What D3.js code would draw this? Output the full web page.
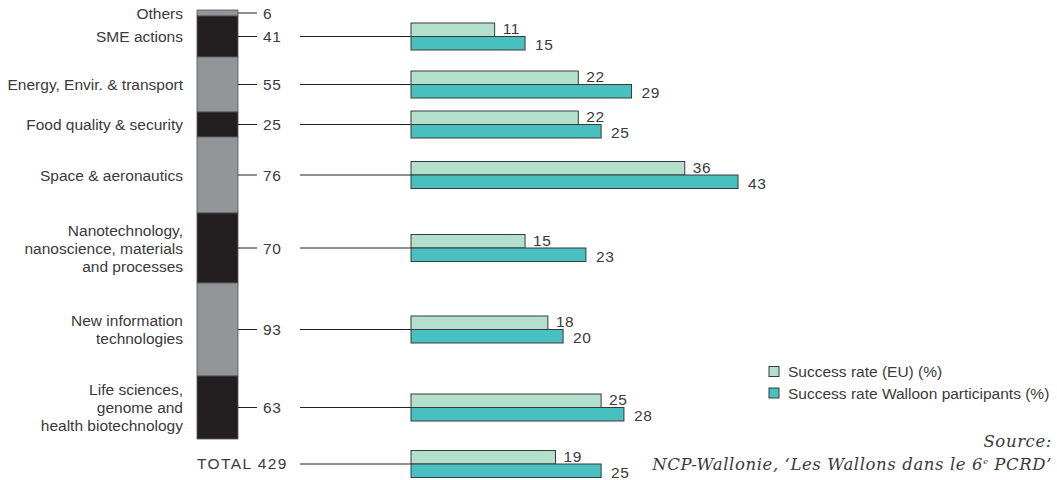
<!DOCTYPE html>
<html><head><meta charset="utf-8">
<script src="https://cdn.jsdelivr.net/npm/d3@7"></script>
<style>
html,body{margin:0;padding:0;background:#fff;}
svg{display:block;}
</style></head>
<body>
<script>
const categories = ["Others","SME actions","Energy, Envir. & transport","Food quality & security","Space & aeronautics","Nanotechnology, nanoscience, materials and processes","New information technologies","Life sciences, genome and health biotechnology"];
const categoryLines = [["Others"],["SME actions"],["Energy, Envir. & transport"],["Food quality & security"],["Space & aeronautics"],["Nanotechnology,","nanoscience, materials","and processes"],["New information","technologies"],["Life sciences,","genome and","health biotechnology"]];
const projects = [6,41,55,25,76,70,93,63];
const euRate = [null,11,22,22,36,15,18,25];
const walloonRate = [null,15,29,25,43,23,20,28];
const totalLabel = "TOTAL 429";
const totalProjects = 429;
const totalEU = 19;
const totalWalloon = 25;
const legendLabels = ["Success rate (EU) (%)","Success rate Walloon participants (%)"];
const sourceLines = ["Source:","NCP-Wallonie, ‘Les Wallons dans le 6"];

const W=1057,H=480;
const svg=d3.select("body").append("svg").attr("width",W).attr("height",H);
const font="'Liberation Sans', Arial, sans-serif";
const fs=15.5;
const textCol="#3a3a3a";
const colGrey="#939598", colBlack="#231f20";
const colEU="#b3e0cc", colWal="#47c0bf";

const y=d3.scaleLinear().domain([0,totalProjects]).range([10,439]);
const x=d3.scaleLinear().domain([0,43]).range([411,738]);
const barX=197, barW=41;
const bh=13.5;

let cum=0;
const segs=projects.map((v,i)=>{const s={i,v,y0:cum,y1:cum+v,eu:euRate[i],wal:walloonRate[i],lines:categoryLines[i]};cum+=v;return s;});
segs.forEach(s=>s.cy=y((s.y0+s.y1)/2));

// stacked bar
svg.append("g").selectAll("rect").data(segs).join("rect")
  .attr("x",barX).attr("y",d=>y(d.y0)).attr("width",barW).attr("height",d=>y(d.y1)-y(d.y0))
  .attr("fill",d=>d.i%2===0?colGrey:colBlack).attr("stroke","#555").attr("stroke-width",0.8);

// ticks
svg.append("g").selectAll("line").data(segs).join("line")
  .attr("x1",barX+barW).attr("x2",barX+barW+19).attr("y1",d=>d.cy).attr("y2",d=>d.cy)
  .attr("stroke","#222").attr("stroke-width",1);

// counts
svg.append("g").selectAll("text").data(segs).join("text")
  .attr("x",263).attr("y",d=>d.cy+5.5).text(d=>d.v).attr("letter-spacing",0.6)
  .attr("font-family",font).attr("font-size",fs).attr("fill",textCol);

// category labels
const lh=18;
const lab=svg.append("g").selectAll("text").data(segs).join("text")
  .attr("text-anchor","end").attr("font-family",font).attr("font-size",fs).attr("fill",textCol);
lab.each(function(d){
  const n=d.lines.length;
  d3.select(this).selectAll("tspan").data(d.lines).join("tspan")
    .attr("x",183).attr("y",(l,j)=>d.cy+5.5+(j-(n-1)/2)*lh).text(l=>l);
});

// groups with rates
const groups=segs.filter(d=>d.eu!=null).map(d=>({cy:d.cy,eu:d.eu,wal:d.wal}));
const totalCy=y(totalProjects)+25;
groups.push({cy:totalCy,eu:totalEU,wal:totalWalloon});

const g=svg.append("g");
g.selectAll("line.lead").data(groups).join("line").attr("class","lead")
  .attr("x1",300).attr("x2",x(0)).attr("y1",d=>d.cy).attr("y2",d=>d.cy)
  .attr("stroke","#222").attr("stroke-width",1);
g.selectAll("rect.eu").data(groups).join("rect").attr("class","eu")
  .attr("x",x(0)).attr("y",d=>d.cy-bh).attr("width",d=>x(d.eu)-x(0)).attr("height",bh)
  .attr("fill",colEU).attr("stroke","#3a3a3a").attr("stroke-width",1);
g.selectAll("rect.wal").data(groups).join("rect").attr("class","wal")
  .attr("x",x(0)).attr("y",d=>d.cy).attr("width",d=>x(d.wal)-x(0)).attr("height",bh)
  .attr("fill",colWal).attr("stroke","#3a3a3a").attr("stroke-width",1);
g.selectAll("text.eu").data(groups).join("text").attr("class","eu")
  .attr("x",d=>x(d.eu)+8).attr("y",d=>d.cy-2.5).text(d=>d.eu).attr("letter-spacing",0.6)
  .attr("font-family",font).attr("font-size",fs).attr("fill",textCol);
g.selectAll("text.wal").data(groups).join("text").attr("class","wal")
  .attr("x",d=>x(d.wal)+10).attr("y",d=>d.cy+bh).text(d=>d.wal).attr("letter-spacing",0.6)
  .attr("font-family",font).attr("font-size",fs).attr("fill",textCol);

// total label
svg.append("text").attr("x",barX).attr("y",totalCy+5).text(totalLabel)
  .attr("font-family",font).attr("font-size",fs).attr("fill",textCol).attr("letter-spacing",1.4);

// legend
const lg=svg.append("g").attr("transform","translate(769,366.5)");
lg.selectAll("rect").data(legendLabels).join("rect")
  .attr("x",0).attr("y",(d,i)=>i*21.5).attr("width",10).attr("height",10)
  .attr("fill",(d,i)=>i===0?colEU:colWal).attr("stroke","#3a3a3a").attr("stroke-width",1);
lg.selectAll("text").data(legendLabels).join("text")
  .attr("x",19).attr("y",(d,i)=>i*21.5+10.5).text(d=>d)
  .attr("font-family",font).attr("font-size",fs).attr("fill",textCol);

// source
const sfont="'DejaVu Serif', 'Liberation Serif', serif";
const sfs=16.5;
svg.append("text").attr("x",1052).attr("y",447).attr("text-anchor","end").attr("letter-spacing",0.6)
  .attr("font-family",sfont).attr("font-style","italic").attr("font-size",sfs).attr("fill",textCol).text(sourceLines[0]);
const st=svg.append("text").attr("x",1052).attr("y",470).attr("text-anchor","end").attr("letter-spacing",0.6)
  .attr("font-family",sfont).attr("font-style","italic").attr("font-size",sfs).attr("fill",textCol);
st.append("tspan").text(sourceLines[1]);
st.append("tspan").attr("font-size",8).attr("dy",-6).text("e");
st.append("tspan").attr("dy",6).text(" PCRD’");
</script>
</body></html>
